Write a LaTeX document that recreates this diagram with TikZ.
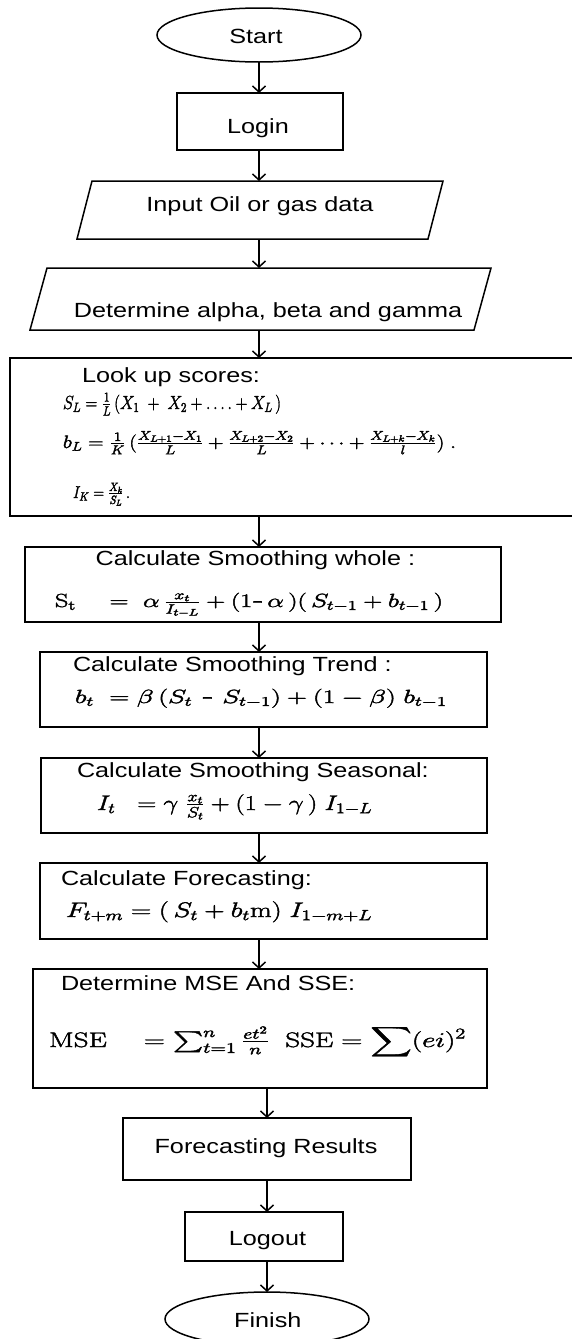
\documentclass[tikz,border=0pt]{standalone}
\usepackage{fix-cm}
\usepackage[no-math]{fontspec}
\setmainfont{Liberation Sans}[FakeStretch=1.23]
\usepackage{amsmath}
\usepackage{graphicx}
\usetikzlibrary{arrows.meta,shapes.geometric}
\newcommand{\fz}[3]{\resizebox{#1pt}{\height}{\special{pdf:literal 2 Tr 0.35 w}\fontsize{#2pt}{#2pt}\selectfont$#3$\special{pdf:literal 0 Tr}}}
\begin{document}
\begin{tikzpicture}[x=1pt,y=-1pt,line width=1.5pt,
  every node/.style={inner sep=0pt,outer sep=0pt},
  box/.style={draw,rectangle},
  oval/.style={draw,ellipse,minimum width=204pt,minimum height=54pt},
  ghost/.style={rectangle,draw=none},
  lbl/.style={font=\fontsize{20.5pt}{24pt}\selectfont,anchor=base},
  lblw/.style={font=\fontsize{20.5pt}{24pt}\selectfont,anchor=base west},
  fml/.style={anchor=base west},
  arr/.style={-{Straight Barb[length=6pt,width=13pt]},line width=1.5pt}]
\useasboundingbox (0,0) rectangle (572,1339);
\fill[white] (0,0) rectangle (572,1339);
\coordinate (ax1) at (259,0);
\coordinate (ax2) at (267,0);
% shapes
\node[oval] (start) at (259,35) {};
\node[box,minimum width=166pt,minimum height=57pt] (login) at (260,121.5) {};
\node[ghost,minimum width=366pt,minimum height=58pt] (input) at (260,210) {};
\draw (input.south west) -- ([xshift=-15pt]input.south east) -- (input.north east) -- ([xshift=15pt]input.north west) -- cycle;
\node[ghost,minimum width=461pt,minimum height=62pt] (determine) at (260.5,299) {};
\draw (determine.south west) -- ([xshift=-17pt]determine.south east) -- (determine.north east) -- ([xshift=17pt]determine.north west) -- cycle;
\node[box,minimum width=570pt,minimum height=158pt] (lookup) at (295,437) {};
\node[box,minimum width=476pt,minimum height=75pt] (whole) at (263,584.5) {};
\node[box,minimum width=447pt,minimum height=75pt] (trend) at (263.5,689.5) {};
\node[box,minimum width=446pt,minimum height=75pt] (seasonal) at (264,795.5) {};
\node[box,minimum width=447pt,minimum height=76pt] (forecast) at (263.5,901) {};
\node[box,minimum width=454pt,minimum height=119pt] (mse) at (260,1028.5) {};
\node[box,minimum width=288pt,minimum height=62pt] (results) at (267,1149) {};
\node[box,minimum width=158pt,minimum height=49pt] (logout) at (264,1236.5) {};
\node[oval] (finish) at (267,1319) {};
% texts
\node[lbl] (tstart) at (256,43) {Start};
\node[lbl] (tlogin) at (258,133) {Login};
\node[lbl] (tinput) at (260,211) {Input Oil or gas data};
\node[lbl] (tdet) at (268,317) {Determine alpha, beta and gamma};
\node[lblw] (tlook) at (82,382) {Look up scores:};
\node[fml] (f1) at (63,409) {\fz{218}{19}{S_L = \tfrac{1}{L}\,(X_1 \;+\; X_2 +\ldots.+ X_L\,)}};
\node[fml] (f2) at (63,448) {\fz{393}{18}{b_L = \tfrac{1}{K}\,(\tfrac{X_{L+1}-X_1}{L} + \tfrac{X_{L+2}-X_2}{L} + \cdots + \tfrac{X_{L+k}-X_k}{l})\;.}};
\node[fml] (f3) at (73,498) {\fz{57}{17}{I_K = \tfrac{X_k}{S_L}\,.}};
\node[lblw] (twhole) at (95.6,565) {Calculate Smoothing whole :};
\node[fml] (f4) at (55,607) {\fz{388}{19}{\mathrm{S_t}\quad=\;\alpha\,\tfrac{x_t}{I_{t-L}} + (1\text{-}\,\alpha\,)(\,S_{t-1} + b_{t-1}\,)}};
\node[lblw] (ttrend) at (73,671) {Calculate Smoothing Trend :};
\node[fml] (f5) at (75,703) {\fz{372}{19}{b_t\; = \beta\,(S_t \text{ - } S_{t-1}) + (1-\beta)\; b_{t-1}}};
\node[lblw] (tseas) at (77,777) {Calculate Smoothing Seasonal:};
\node[fml] (f6) at (97,810) {\fz{275}{21}{I_t\;\; = \gamma\;\tfrac{x_t}{S_t} + (1-\gamma\,)\; I_{1-L}}};
\node[lblw] (tfore) at (61,885) {Calculate Forecasting:};
\node[fml] (f7) at (66,917) {\fz{306}{21}{F_{t+m} = (\,S_t + b_t\mathrm{m})\; I_{1-m+L}}};
\node[lblw] (tmse) at (61,990) {Determine MSE And SSE:};
\node[fml] (f8) at (49,1047) {\fz{417}{21}{\mathrm{MSE}\quad = \textstyle\sum_{t=1}^{n}\tfrac{et^2}{n}\;\; \mathrm{SSE} = \displaystyle\sum (ei)^2}};
\node[lbl] (tres) at (266,1153) {Forecasting Results};
\node[lbl] (tlogout) at (267.5,1245) {Logout};
\node[lbl] (tfinish) at (267.8,1327) {Finish};
% connectors
\draw[arr] (start.south -| ax1) -- (login.north -| ax1);
\draw[arr] (login.south -| ax1) -- (input.north -| ax1);
\draw[arr] (input.south -| ax1) -- (determine.north -| ax1);
\draw[arr] (determine.south -| ax1) -- (lookup.north -| ax1);
\draw[arr] (lookup.south -| ax1) -- (whole.north -| ax1);
\draw[arr] (whole.south -| ax1) -- (trend.north -| ax1);
\draw[arr] (trend.south -| ax1) -- (seasonal.north -| ax1);
\draw[arr] (seasonal.south -| ax1) -- (forecast.north -| ax1);
\draw[arr] (forecast.south -| ax1) -- (mse.north -| ax1);
\draw[arr] (mse.south -| ax2) -- (results.north -| ax2);
\draw[arr] (results.south -| ax2) -- (logout.north -| ax2);
\draw[arr] (logout.south -| ax2) -- (finish.north -| ax2);
\end{tikzpicture}
\end{document}
